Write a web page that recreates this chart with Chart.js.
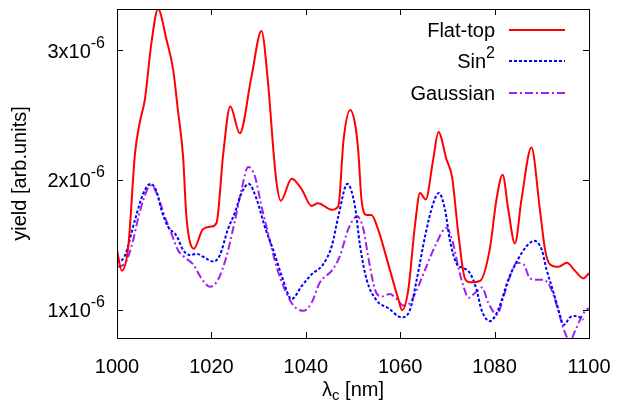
<!DOCTYPE html>
<html>
<head>
<meta charset="utf-8">
<script src="https://cdn.jsdelivr.net/npm/chart.js@4/dist/chart.umd.min.js"></script>
<style>
  html, body { margin: 0; padding: 0; background: #fff; }
  #wrap { width: 618px; height: 403px; }
</style>
</head>
<body>
<div id="wrap"><canvas id="yieldChart" width="618" height="403"></canvas></div>
<script>
// valores en unidades de 1e-6
const xFlat = [1000.0, 1001.0, 1002.4, 1003.8, 1004.8, 1005.9, 1007.3, 1008.7, 1010.5, 1011.9,
  1012.9, 1014.0, 1014.7, 1016.3, 1018.2, 1020.0, 1021.1, 1022.5, 1024.0, 1026.0,
  1028.5, 1030.6, 1032.0, 1033.2, 1033.8, 1034.7, 1037.0, 1039.1, 1041.2, 1042.6,
  1045.5, 1046.9, 1048.0, 1049.4, 1050.4, 1051.1, 1051.8, 1052.9, 1053.9, 1055.3,
  1057.4, 1059.6, 1060.4, 1061.7, 1063.1, 1064.2, 1065.4, 1067.0, 1068.1, 1069.8,
  1071.0, 1072.3, 1073.7, 1074.8, 1076.9, 1079.0, 1080.4, 1081.7, 1082.9, 1084.3,
  1085.7, 1087.8, 1089.6, 1090.7, 1091.7, 1093.5, 1095.3, 1097.0, 1098.8, 1100.0];
const yFlat = [1.46, 1.30, 1.49, 2.20, 2.44, 2.62, 3.06, 3.32, 3.08, 2.85,
  2.54, 2.18, 1.72, 1.47, 1.62, 1.64, 1.67, 2.20, 2.57, 2.36,
  2.80, 3.15, 2.75, 2.20, 1.98, 1.84, 2.01, 1.93, 1.80, 1.82,
  1.77, 1.80, 2.31, 2.54, 2.44, 2.23, 1.85, 1.73, 1.73, 1.62,
  1.36, 1.08, 0.995, 1.15, 1.64, 1.90, 1.85, 2.16, 2.37, 2.16,
  2.02, 1.59, 1.24, 1.21, 1.22, 1.47, 1.85, 2.04, 1.77, 1.51,
  1.85, 2.25, 1.77, 1.46, 1.35, 1.33, 1.36, 1.30, 1.24, 1.28];

const xSin = [1000.0, 1001.6, 1003.8, 1005.5, 1007.1, 1008.4, 1009.4, 1010.8, 1012.6, 1014.0,
  1015.4, 1016.8, 1018.6, 1020.4, 1021.8, 1023.5, 1025.0, 1026.4, 1027.9, 1029.6,
  1031.3, 1033.1, 1034.9, 1037.0, 1039.1, 1041.2, 1043.7, 1045.5, 1046.9, 1048.8,
  1050.4, 1051.5, 1052.9, 1055.0, 1057.5, 1060.3, 1062.1, 1063.5, 1065.3, 1067.0,
  1068.2, 1069.5, 1070.5, 1072.0, 1073.4, 1074.8, 1076.2, 1077.2, 1079.0, 1080.8,
  1082.9, 1085.0, 1086.8, 1088.4, 1090.0, 1091.0, 1092.5, 1093.9, 1094.6, 1096.0,
  1097.0, 1098.1, 1098.8];
const ySin = [1.36, 1.41, 1.69, 1.89, 1.97, 1.91, 1.77, 1.64, 1.57, 1.46,
  1.42, 1.43, 1.40, 1.37, 1.42, 1.62, 1.75, 1.90, 1.97, 1.85,
  1.64, 1.46, 1.26, 1.08, 1.18, 1.27, 1.35, 1.49, 1.72, 1.97,
  1.80, 1.49, 1.23, 1.07, 1.01, 0.94, 1.00, 1.23, 1.57, 1.82,
  1.90, 1.77, 1.54, 1.35, 1.32, 1.28, 1.15, 1.00, 0.91, 1.00,
  1.23, 1.39, 1.49, 1.53, 1.46, 1.31, 1.13, 0.95, 0.88, 0.94,
  0.95, 0.94, 0.92];

const xGauss = [1000.0, 1001.6, 1003.1, 1004.8, 1006.6, 1007.3, 1008.7, 1010.1, 1011.5, 1012.9,
  1014.4, 1016.1, 1017.9, 1019.7, 1021.4, 1023.2, 1025.0, 1026.4, 1027.8, 1029.2,
  1030.6, 1032.0, 1033.8, 1035.6, 1037.4, 1039.5, 1041.2, 1043.0, 1045.5, 1047.2,
  1049.0, 1050.9, 1052.2, 1053.3, 1054.7, 1056.1, 1057.8, 1059.3, 1060.7, 1061.8,
  1063.5, 1065.3, 1067.4, 1069.8, 1071.2, 1072.3, 1073.4, 1074.5, 1075.6, 1076.6,
  1077.3, 1078.7, 1080.5, 1081.9, 1083.3, 1084.7, 1086.1, 1087.5, 1088.9, 1090.3,
  1091.7, 1093.2, 1094.6, 1096.0, 1097.0, 1098.5, 1099.5, 1100.0];
const yGauss = [1.33, 1.35, 1.49, 1.75, 1.94, 1.96, 1.87, 1.72, 1.59, 1.46,
  1.40, 1.35, 1.24, 1.175, 1.23, 1.41, 1.69, 1.93, 2.10, 2.03,
  1.80, 1.59, 1.33, 1.15, 1.03, 0.99, 1.05, 1.21, 1.30, 1.41,
  1.62, 1.72, 1.62, 1.39, 1.15, 1.10, 1.12, 1.08, 1.03, 1.04,
  1.15, 1.31, 1.49, 1.63, 1.51, 1.33, 1.18, 1.09, 1.12, 1.15,
  1.17, 1.05, 0.96, 1.10, 1.26, 1.36, 1.35, 1.24, 1.23, 1.23,
  1.18, 1.03, 0.85, 0.76, 0.83, 0.95, 1.00, 1.01];

const seriesNames = ['Flat-top', 'Sin', 'Gaussian'];
const xTicks = [1000, 1020, 1040, 1060, 1080, 1100];
const yTicks = [1, 2, 3];

const toPoints = (xs, ys) => xs.map((x, i) => ({ x: x, y: ys[i] }));

const FONT = "'Liberation Sans', Arial, sans-serif";

// estilos de cada serie
const estilos = [
  { color: '#ff0000', width: 2, dash: [] },
  { color: '#0000ff', width: 2, dash: [3, 2] },
  { color: '#a020f0', width: 2, dash: [8, 3, 2, 3] }
];

// plugin para marco, ticks hacia dentro, etiquetas con exponentes y leyenda
const marcoGnuplot = {
  id: 'marcoGnuplot',
  afterDraw(chart) {
    const ctx = chart.ctx;
    const a = chart.chartArea;
    const sx = chart.scales.x;
    const sy = chart.scales.y;
    ctx.save();
    ctx.strokeStyle = '#000';
    ctx.lineWidth = 1;
    ctx.strokeRect(Math.round(a.left) + 0.5, Math.round(a.top) + 0.5,
      Math.round(a.right - a.left), Math.round(a.bottom - a.top));

    ctx.beginPath();
    xTicks.forEach(v => {
      const px = Math.round(sx.getPixelForValue(v)) + 0.5;
      ctx.moveTo(px, a.bottom); ctx.lineTo(px, a.bottom - 6);
      ctx.moveTo(px, a.top); ctx.lineTo(px, a.top + 6);
    });
    yTicks.forEach(v => {
      const py = Math.round(sy.getPixelForValue(v)) + 0.5;
      ctx.moveTo(a.left, py); ctx.lineTo(a.left + 6, py);
      ctx.moveTo(a.right, py); ctx.lineTo(a.right - 6, py);
    });
    ctx.stroke();

    // etiquetas del eje y: Nx10^-6
    ctx.fillStyle = '#000';
    ctx.textBaseline = 'middle';
    ctx.textAlign = 'left';
    yTicks.forEach(v => {
      const py = sy.getPixelForValue(v);
      const base = v + 'x10';
      ctx.font = '20px ' + FONT;
      const wb = ctx.measureText(base).width;
      ctx.font = '16px ' + FONT;
      const ws = ctx.measureText('-6').width;
      const x0 = a.left - 12 - wb - ws;
      ctx.font = '20px ' + FONT;
      ctx.fillText(base, x0, py + 2);
      ctx.font = '16px ' + FONT;
      ctx.fillText('-6', x0 + wb, py - 7);
    });

    // titulo del eje x: lambda_c [nm]
    ctx.font = '20px ' + FONT;
    const wl = ctx.measureText('\u03bb').width;
    const wr = ctx.measureText(' [nm]').width;
    ctx.font = '15px ' + FONT;
    const wc = ctx.measureText('c').width;
    const cx = (a.left + a.right) / 2;
    let tx = cx - (wl + wc + wr) / 2;
    const ty = 390;
    ctx.font = '20px ' + FONT;
    ctx.fillText('\u03bb', tx, ty);
    ctx.font = '15px ' + FONT;
    ctx.fillText('c', tx + wl, ty + 6);
    ctx.font = '20px ' + FONT;
    ctx.fillText(' [nm]', tx + wl + wc, ty);

    // leyenda
    const filas = [30, 61, 93];
    seriesNames.forEach((nombre, i) => {
      const y = filas[i];
      ctx.textAlign = 'right';
      ctx.font = '20px ' + FONT;
      if (i === 1) {
        ctx.font = '16px ' + FONT;
        const w2 = ctx.measureText('2').width;
        ctx.fillText('2', 495, y - 7);
        ctx.font = '20px ' + FONT;
        ctx.fillText(nombre, 495 - w2, y + 1);
      } else {
        ctx.fillText(nombre, 495, y + 1);
      }
      const e = estilos[i];
      ctx.strokeStyle = e.color;
      ctx.lineWidth = e.width;
      ctx.setLineDash(e.dash);
      ctx.beginPath();
      ctx.moveTo(509, y);
      ctx.lineTo(565, y);
      ctx.stroke();
      ctx.setLineDash([]);
    });
    ctx.restore();
  }
};

const datos = [toPoints(xFlat, yFlat), toPoints(xSin, ySin), toPoints(xGauss, yGauss)];

new Chart(document.getElementById('yieldChart'), {
  type: 'line',
  data: {
    datasets: datos.map((d, i) => ({
      label: seriesNames[i],
      data: d,
      borderColor: estilos[i].color,
      borderWidth: estilos[i].width,
      borderDash: estilos[i].dash,
      pointRadius: 0,
      fill: false,
      cubicInterpolationMode: 'monotone'
    }))
  },
  options: {
    responsive: false,
    animation: false,
    layout: { padding: { top: 9, right: 29, left: 0, bottom: 0 } },
    plugins: {
      legend: { display: false },
      tooltip: { enabled: false }
    },
    scales: {
      x: {
        type: 'linear',
        min: 1000,
        max: 1100,
        grid: {
          display: true,
          drawOnChartArea: false,
          drawTicks: true,
          tickLength: 14,
          color: 'rgba(0,0,0,0)'
        },
        border: { display: false },
        ticks: {
          stepSize: 20,
          color: '#000',
          padding: 3,
          maxRotation: 0,
          font: { family: FONT, size: 20 },
          callback: v => String(v)
        },
        afterFit: s => { s.height = 65; }
      },
      y: {
        min: 0.78,
        max: 3.32,
        grid: { display: false, drawTicks: false },
        border: { display: false },
        ticks: { display: false },
        title: {
          display: true,
          text: 'yield [arb.units]',
          color: '#000',
          font: { family: FONT, size: 20 },
          padding: { top: 8, bottom: 0 }
        },
        afterFit: s => { s.width = 117; }
      }
    }
  },
  plugins: [marcoGnuplot]
});
</script>
</body>
</html>
